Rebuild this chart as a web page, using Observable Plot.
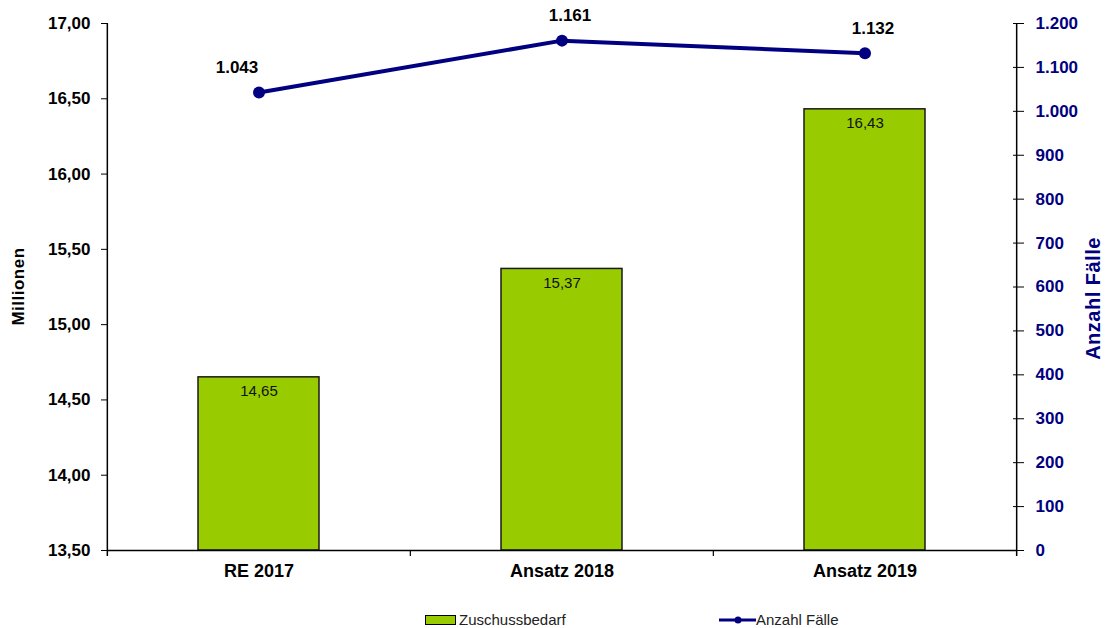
<!DOCTYPE html>
<html><head><meta charset="utf-8">
<script src="https://cdn.jsdelivr.net/npm/d3@7"></script>
<script src="https://cdn.jsdelivr.net/npm/@observablehq/plot@0.6"></script>
<style>
body{margin:0;background:#fff;font-family:"Liberation Sans",Arial,sans-serif;}
#legend{position:relative;height:38px;font-size:15px;color:#222;}
.item{position:absolute;top:22px;display:flex;align-items:center;line-height:16px;}
</style></head>
<body><div id="chart"></div>
<div id="legend">
  <div class="item" style="left:425px"><span style="display:inline-block;width:29px;height:8px;background:#99cc00;border:1px solid #000;margin-right:3px"></span>Zuschussbedarf</div>
  <div class="item" style="left:719px"><svg width="37" height="10" style="margin-right:0"><line x1="0" y1="5" x2="37" y2="5" stroke="#000080" stroke-width="3"/><circle cx="19" cy="5" r="3.5" fill="#000080"/></svg>Anzahl Fälle</div>
</div>
<script>
const categories = ["RE 2017", "Ansatz 2018", "Ansatz 2019"];
const zuschussbedarf = [14.65, 15.37, 16.43];
const anzahlFaelle = [1043, 1161, 1132];
const leftTicks = [13.5, 14, 14.5, 15, 15.5, 16, 16.5, 17];
const rightTicks = [0, 100, 200, 300, 400, 500, 600, 700, 800, 900, 1000, 1100, 1200];
const leftDomain = [13.5, 17];
const rightDomain = [0, 1200];

const de = d3.formatLocale({decimal: ",", thousands: ".", grouping: [3], currency: ["", "€"]});
const f2 = de.format(",.2f");
const fInt = de.format(",d");

const toLeft = v => leftDomain[0] + (v - rightDomain[0]) / (rightDomain[1] - rightDomain[0]) * (leftDomain[1] - leftDomain[0]);
const fromLeft = y => rightDomain[0] + (y - leftDomain[0]) / (leftDomain[1] - leftDomain[0]) * (rightDomain[1] - rightDomain[0]);

const data = categories.map((c, i) => ({cat: c, val: zuschussbedarf[i], count: anzahlFaelle[i]}));

const W = 1105, H = 590, ML = 107, MR = 88, MT = 23, MB = 40;
const step = (W - ML - MR) / categories.length;
const navy = "#000080";
const base = leftDomain[0];
const boldText = {fontSize: 17, fontWeight: "bold", letterSpacing: 0.6};

const chart = Plot.plot({
  width: W, height: H,
  marginLeft: ML, marginRight: MR, marginTop: MT, marginBottom: MB,
  style: {fontFamily: "'Liberation Sans', Arial, sans-serif", background: "#fff"},
  x: {type: "band", domain: categories, paddingInner: 0.6, paddingOuter: 0.3, label: null},
  y: {type: "linear", domain: leftDomain, label: null},
  marks: [
    Plot.barY(data, {x: "cat", y1: () => base, y2: "val", fill: "#99cc00", stroke: "#1a1a1a", strokeWidth: 1.5}),
    Plot.text(data, {x: "cat", y: "val", text: d => f2(d.val), dy: 14, fontSize: 15, letterSpacing: 0.4, fill: "#111"}),
    Plot.ruleY([base], {stroke: "#000", strokeWidth: 1.5}),
    Plot.ruleX([categories[0]], {dx: -step / 2, stroke: "#000", strokeWidth: 1.5, insetBottom: -6}),
    Plot.ruleX([categories[categories.length - 1]], {dx: step / 2, stroke: "#000", strokeWidth: 1.5, insetBottom: -6}),
    Plot.ruleX(categories.slice(1), {dx: -step / 2, y1: () => base, y2: () => base, stroke: "#000", strokeWidth: 1.2, insetBottom: -6}),
    Plot.axisY({anchor: "left", ticks: leftTicks, tickFormat: f2, tickSize: 6, tickPadding: 11, ...boldText, fill: "#000", label: null}),
    Plot.axisY({anchor: "right", ticks: rightTicks.map(toLeft), tickFormat: d => fInt(Math.round(fromLeft(d))), tickSize: 6, tickPadding: 12, ...boldText, color: navy, stroke: "#000", label: null}),
    Plot.axisY({anchor: "right", ticks: rightTicks.map(toLeft), tickFormat: () => "", tickSize: -5, stroke: "#000", label: null}),
    Plot.axisX({tickSize: 0, tickPadding: 14, ...boldText, fontSize: 18, fill: "#000", label: null}),
    Plot.line(data, {x: "cat", y: d => toLeft(d.count), stroke: navy, strokeWidth: 4}),
    Plot.dot(data, {x: "cat", y: d => toLeft(d.count), r: 6, fill: navy}),
    Plot.text(data.slice(0, 1), {x: "cat", y: d => toLeft(d.count), text: d => fInt(d.count), dy: -25, dx: -22, ...boldText, fill: "#000"}),
    Plot.text(data.slice(1), {x: "cat", y: d => toLeft(d.count), text: d => fInt(d.count), dy: -25, dx: 8, ...boldText, fill: "#000"})
  ]
});

const svg = d3.select(chart);
svg.append("text").attr("transform", `translate(24,${(MT + H - MB) / 2}) rotate(-90)`)
  .attr("text-anchor", "middle").attr("font-size", 17).attr("letter-spacing", 0.5).attr("font-weight", "bold").attr("fill", "#000").text("Millionen");
svg.append("text").attr("transform", `translate(1100,${(MT + H - MB) / 2 + 12}) rotate(-90)`)
  .attr("text-anchor", "middle").attr("font-size", 20).attr("letter-spacing", 0.5).attr("font-weight", "bold").attr("fill", navy).text("Anzahl Fälle");

document.getElementById("chart").appendChild(chart);
</script></body></html>
